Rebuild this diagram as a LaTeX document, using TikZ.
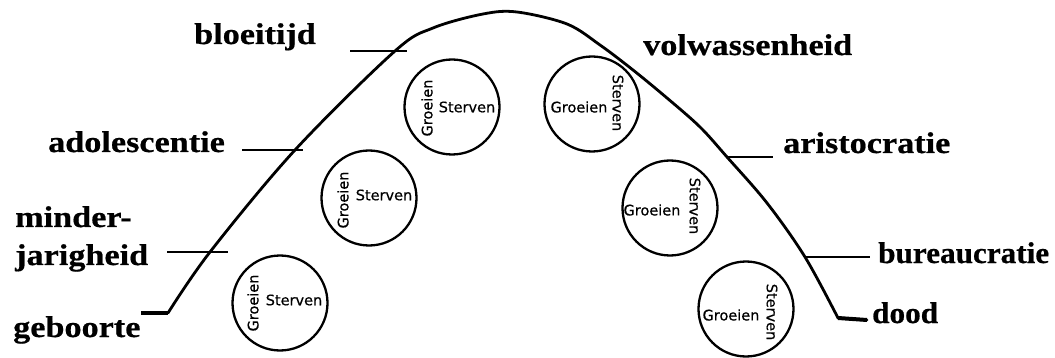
\documentclass[tikz,border=0pt]{standalone}
\usepackage{fontspec}
\newfontfamily\lblwide[FakeStretch=1.14, BoldFeatures={FakeBold=0.6}]{Liberation Serif}
\newfontfamily\lblnarrow[FakeStretch=1.04, BoldFeatures={FakeBold=0.6}]{Liberation Serif}
\newfontfamily\circfont[FakeBold=0.5]{DejaVu Sans}
\tikzset{
  lbl/.style={anchor=base west, inner sep=0pt, font=\lblwide\bfseries\fontsize{30}{31}\selectfont},
  lbln/.style={anchor=base west, inner sep=0pt, font=\lblnarrow\bfseries\fontsize{30}{31}\selectfont},
  ring/.style={circle, draw, line width=2.3pt, minimum size=95pt, inner sep=0pt},
  ctext/.style={font=\circfont\fontsize{14.5}{15}\selectfont, inner sep=0pt},
  lifeline/.style={line width=2.8pt, line join=round, line cap=round},
  tickline/.style={line width=2.3pt},
  endline/.style={line width=4pt},
}
\begin{document}
\begin{tikzpicture}[x=1pt, y=-1pt]
\useasboundingbox (0,0) rectangle (1055,358);

% stage labels
\node[lbl] (bloei) at (194,44) {bloeitijd};
\node[lbl] (volw) at (643,55) {volwassenheid};
\node[lbl] (adol) at (48,152) {adolescentie};
\node[lbl] (arist) at (783,153) {aristocratie};
\node[lbl] (minder) at (15,227) {minder-};
\node[lbl] (jarig) at (15,265) {jarigheid};
\node[lbln] (bur) at (878,263) {bureaucratie};
\node[lbl] (geb) at (13,337) {geboorte};
\node[lbln] (dood) at (872,323) {dood};

% the life curve
\coordinate (start) at (141,313);
\coordinate (rise) at (168,313);
\coordinate (fall) at (838,318);
\coordinate (finish) at (867,320);
\draw[endline] (start) -- (rise);
\draw[endline] (fall) -- (finish);
\draw[lifeline] (rise) -- plot[smooth, tension=0.55] coordinates {
  (168,313) (210,252) (295,150) (395,51) (433,28) (483,14) (517,12)
  (567,24) (600,45) (633,70) (667,98) (700,127) (727,157) (767,203)
  (805,257) (838,318)} -- (finish);

% tick marks on the curve
\coordinate (t1a) at (350,51);  \coordinate (t1b) at (407,51);
\coordinate (t2a) at (242,150); \coordinate (t2b) at (303,150);
\coordinate (t3a) at (167,252); \coordinate (t3b) at (228,252);
\coordinate (t4a) at (727,157); \coordinate (t4b) at (773,157);
\coordinate (t5a) at (805,257); \coordinate (t5b) at (870,257);
\draw[tickline] (t1a) -- (t1b);
\draw[tickline] (t2a) -- (t2b);
\draw[tickline] (t3a) -- (t3b);
\draw[tickline] (t4a) -- (t4b);
\draw[tickline] (t5a) -- (t5b);

% circles on the rising side
\node[ring] (c1) at (280,303) {};
\node[ctext, rotate=90] (g1) at (253,303) {Groeien};
\node[ctext] (s1) at (294,300) {Sterven};
\node[ring] (c2) at (369,198) {};
\node[ctext, rotate=90] (g2) at (343,200) {Groeien};
\node[ctext] (s2) at (384,195) {Sterven};
\node[ring] (c3) at (452,107) {};
\node[ctext, rotate=90] (g3) at (427,108) {Groeien};
\node[ctext] (s3) at (467,107) {Sterven};

% circles on the falling side
\node[ring] (c4) at (592,104) {};
\node[ctext] (g4) at (579,107) {Groeien};
\node[ctext, rotate=-90] (s4) at (618,103) {Sterven};
\node[ring] (c5) at (670,208) {};
\node[ctext] (g5) at (652,210) {Groeien};
\node[ctext, rotate=-90] (s5) at (695,206) {Sterven};
\node[ring] (c6) at (746,309) {};
\node[ctext] (g6) at (731,315) {Groeien};
\node[ctext, rotate=-90] (s6) at (772,312) {Sterven};
\end{tikzpicture}
\end{document}
